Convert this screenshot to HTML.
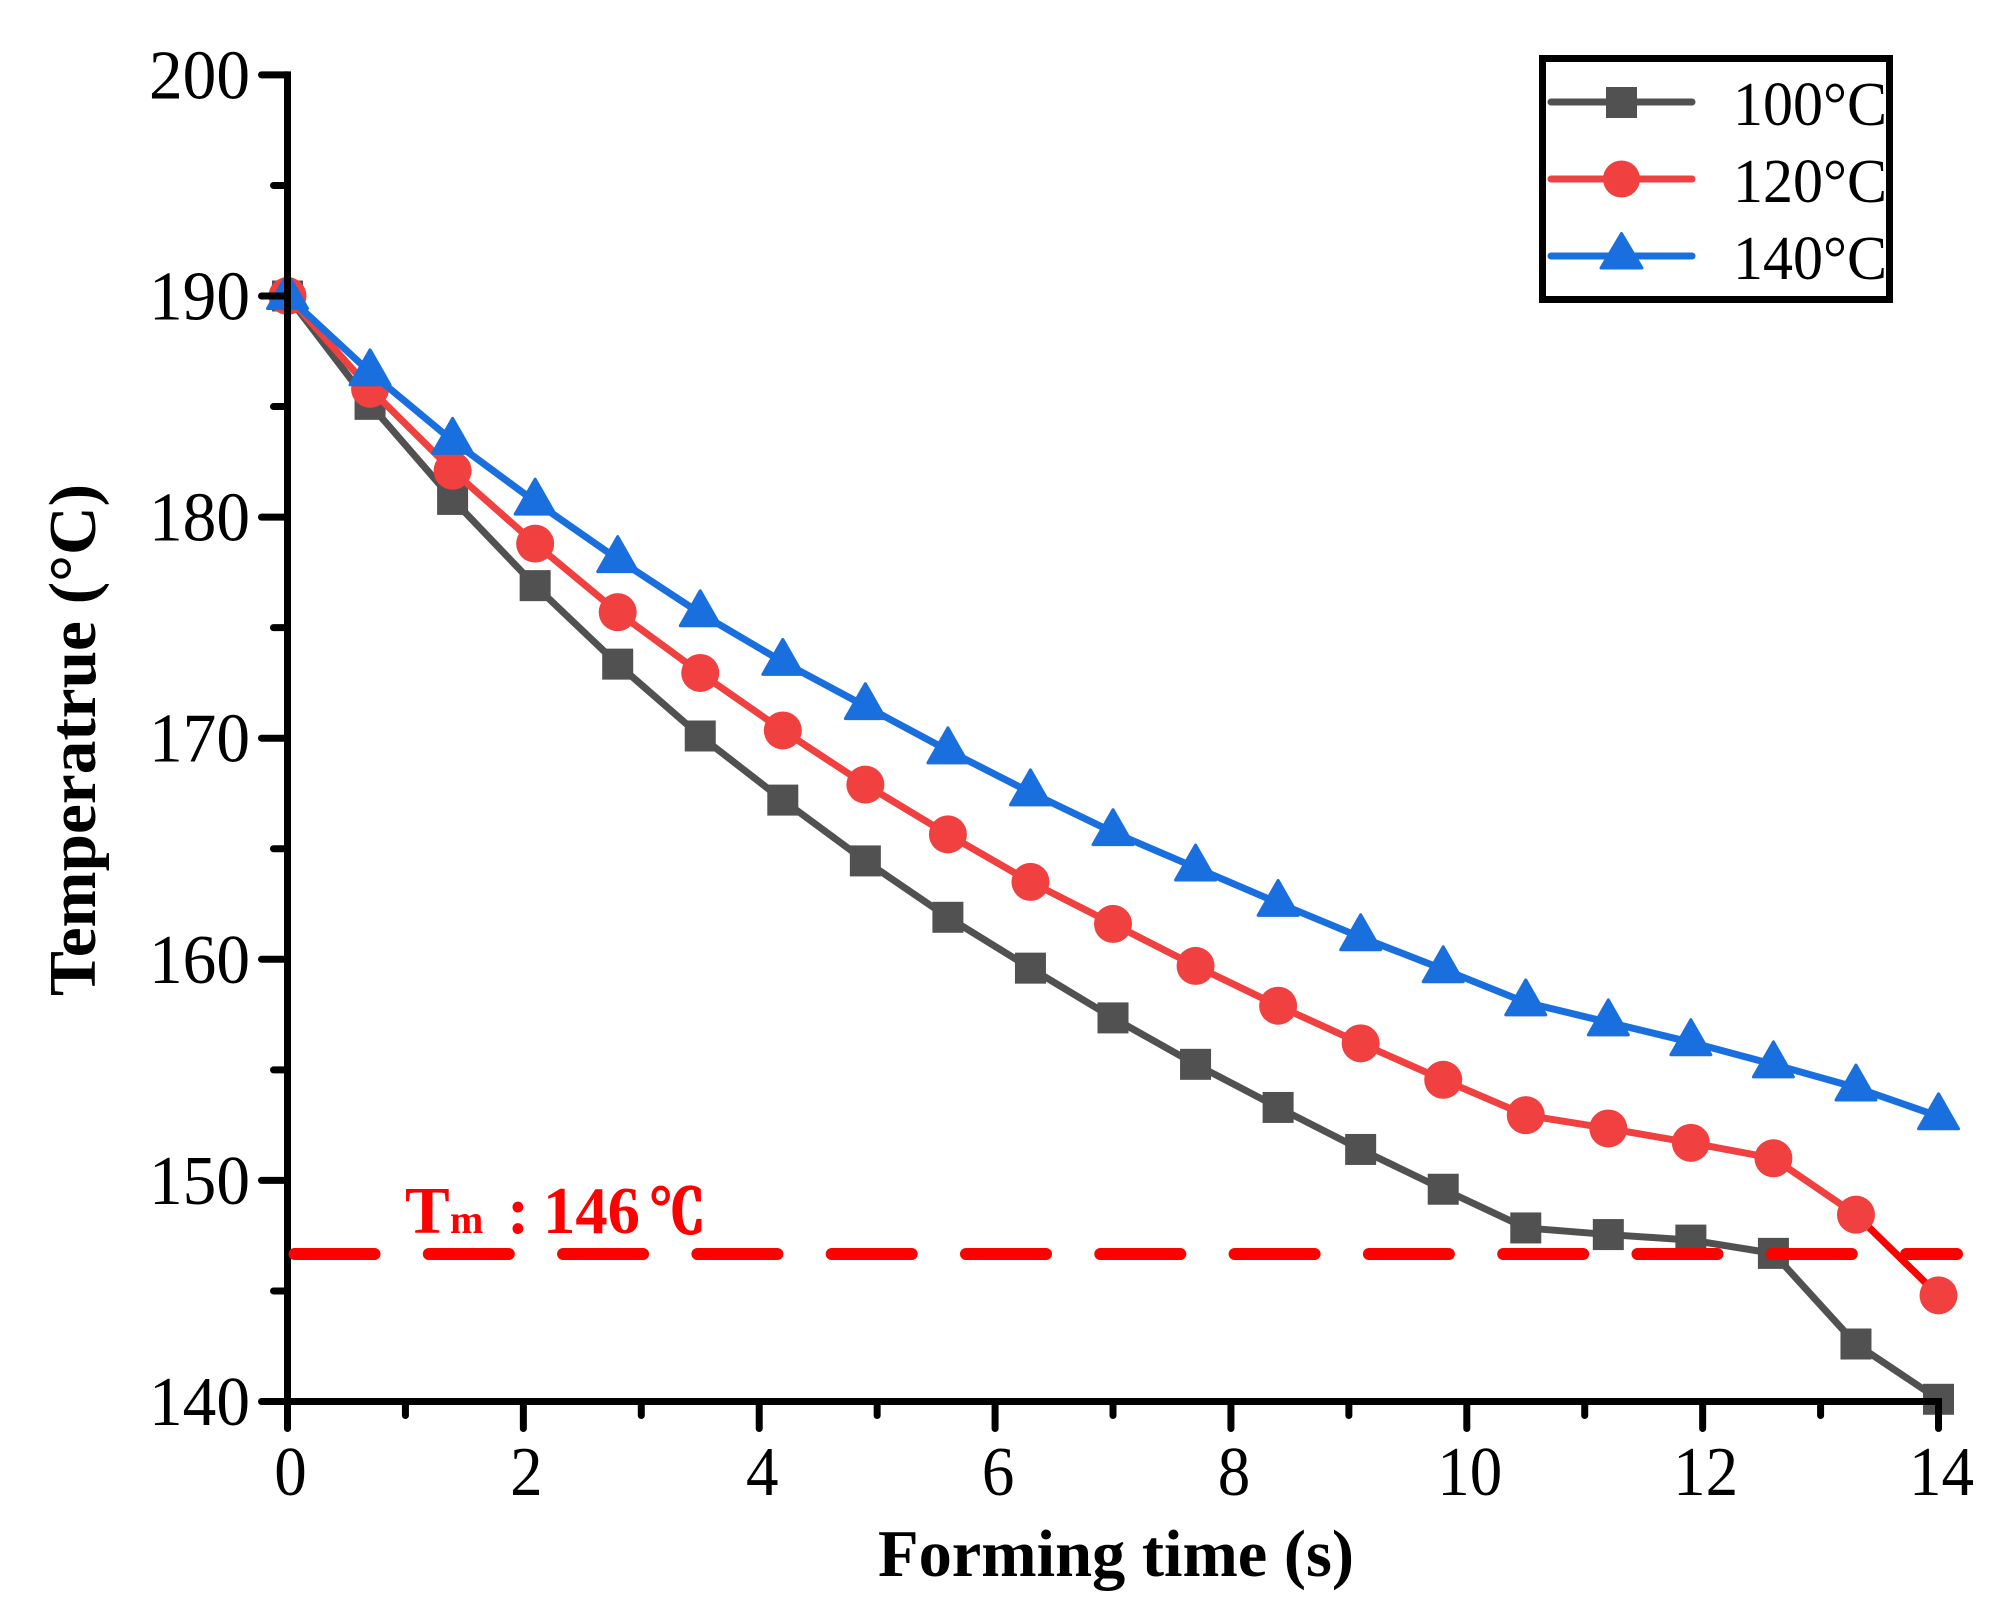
<!DOCTYPE html>
<html>
<head>
<meta charset="utf-8">
<title>Temperature vs forming time</title>
<style>
html,body{margin:0;padding:0;background:#fff;width:2002px;height:1618px;overflow:hidden}
svg{display:block}
text{font-family:"Liberation Serif","Noto Serif CJK SC",serif;fill:#000}
</style>
</head>
<body>
<svg id="chart" width="2002" height="1618" viewBox="0 0 2002 1618" xmlns="http://www.w3.org/2000/svg">
  <rect width="2002" height="1618" fill="#fff"/>
  <g id="series-layer"></g>
  <g id="axis-layer"></g>
  <g id="ref-layer"></g>

  <text x="878" y="1576" font-size="67" font-weight="bold" textLength="476" lengthAdjust="spacingAndGlyphs">Forming time (s)</text>
  <text transform="translate(95,996) rotate(-90)" font-size="67" font-weight="bold" textLength="512" lengthAdjust="spacingAndGlyphs">Temperatrue (°C)</text>

  <text y="1233" style="fill:#ff0000" font-weight="bold"><tspan x="405" font-size="67">T</tspan><tspan x="450" font-size="40">m</tspan><tspan x="507" font-size="67">:</tspan><tspan x="543" font-size="67" textLength="97" lengthAdjust="spacingAndGlyphs">146</tspan><tspan x="649" font-size="60" textLength="56" lengthAdjust="spacingAndGlyphs" style="stroke:#ff0000;stroke-width:2.2px">℃</tspan></text>

  <g>
    <rect x="1542.5" y="58.5" width="347" height="241" fill="#fff" stroke="#000" stroke-width="7"/>
    <g>
      <line x1="1551" y1="102" x2="1692" y2="102" stroke="#515151" stroke-width="7" stroke-linecap="round"/>
      <rect x="1606" y="87" width="31" height="31" fill="#515151"/>
      <text x="1733" y="125" font-size="62" textLength="154" lengthAdjust="spacingAndGlyphs">100°C</text>
    </g>
    <g>
      <line x1="1551" y1="179" x2="1692" y2="179" stroke="#F14040" stroke-width="7" stroke-linecap="round"/>
      <circle cx="1621.5" cy="179" r="18.5" fill="#F14040"/>
      <text x="1733" y="202" font-size="62" textLength="154" lengthAdjust="spacingAndGlyphs">120°C</text>
    </g>
    <g>
      <line x1="1551" y1="256" x2="1692" y2="256" stroke="#1A6FDF" stroke-width="7" stroke-linecap="round"/>
      <path d="M1621.5 233.5 L1642 268 L1601 268 Z" fill="#1A6FDF" stroke="#1A6FDF" stroke-width="3" stroke-linejoin="round"/>
      <text x="1733" y="279" font-size="62" textLength="154" lengthAdjust="spacingAndGlyphs">140°C</text>
    </g>
  </g>
</svg>
<script>
var times = [0,0.7,1.4,2.1,2.8,3.5,4.2,4.9,5.6,6.3,7,7.7,8.4,9.1,9.8,10.5,11.2,11.9,12.6,13.3,14];
var temps100 = [190,185.1,180.8,176.9,173.35,170.1,167.2,164.45,161.9,159.6,157.35,155.25,153.3,151.4,149.6,147.85,147.55,147.3,146.7,142.6,140.1];
var temps120 = [190,185.8,182.1,178.8,175.7,172.95,170.35,167.9,165.65,163.5,161.6,159.7,157.9,156.2,154.55,152.95,152.35,151.7,151,148.45,144.8];
var temps140 = [190,186.55,183.45,180.7,178.1,175.65,173.45,171.45,169.45,167.55,165.75,164.15,162.55,161,159.55,158.05,157.15,156.25,155.25,154.2,152.9];
var xMajorTicks = [0,2,4,6,8,10,12,14];
var xMinorTicks = [1,3,5,7,9,11,13];
var yMajorTicks = [140,150,160,170,180,190,200];
var yMinorTicks = [145,155,165,175,185,195];
var meltingLine = 146.67;

var NS = 'http://www.w3.org/2000/svg';
function sx(t){ return 287.5 + t * 117.93; }
function sy(v){ return 1401.5 - (v - 140) * 22.11; }
function make(tag, parent){
  var el = document.createElementNS(NS, tag);
  parent.appendChild(el);
  return el;
}
function setAll(el, props){
  for (var k in props) el.setAttribute(k, props[k]);
}

var seriesLayer = document.getElementById('series-layer');
var axisLayer = document.getElementById('axis-layer');
var refLayer = document.getElementById('ref-layer');

function drawLine(parent, values, color, label){
  var pts = values.map(function(v, i){ return sx(times[i]) + ',' + sy(v); }).join(' ');
  var line = make('polyline', parent);
  setAll(line, {points: pts, fill: 'none', stroke: color, 'stroke-width': 7, 'stroke-linejoin': 'round'});
  
  
}
function drawSquares(parent, values, color){
  values.forEach(function(v, i){
    var m = make('rect', parent);
    setAll(m, {x: sx(times[i]) - 15.5, y: sy(v) - 15.5, width: 31, height: 31, fill: color});
    
    
  });
}
function drawCircles(parent, values, color){
  values.forEach(function(v, i){
    var m = make('circle', parent);
    setAll(m, {cx: sx(times[i]), cy: sy(v), r: 19, fill: color});
    
    
  });
}
function drawTriangles(parent, values, color){
  values.forEach(function(v, i){
    var cx = sx(times[i]), cy = sy(v);
    var m = make('path', parent);
    setAll(m, {d: 'M' + cx + ' ' + (cy - 22.5) + ' L' + (cx + 20) + ' ' + (cy + 12.5) + ' L' + (cx - 20) + ' ' + (cy + 12.5) + ' Z',
      fill: color, stroke: color, 'stroke-width': 3, 'stroke-linejoin': 'round'});
    
    
  });
}

var g100 = make('g', seriesLayer);


drawLine(g100, temps100, '#515151', '100');
drawSquares(g100, temps100, '#515151');

var g120 = make('g', seriesLayer);


drawLine(g120, temps120, '#F14040', '120');
var n = times.length - 1;
var lastSeg = make('line', g120);
setAll(lastSeg, {x1: sx(times[n - 1]), y1: sy(temps120[n - 1]), x2: sx(times[n]), y2: sy(temps120[n]), stroke: '#ff0000', 'stroke-width': 7});


drawCircles(g120, temps120, '#F14040');

var g140 = make('g', seriesLayer);


drawLine(g140, temps140, '#1A6FDF', '140');
drawTriangles(g140, temps140, '#1A6FDF');

// axes
var yAxis = make('line', axisLayer);
setAll(yAxis, {x1: sx(0), y1: sy(200) - 3.5, x2: sx(0), y2: sy(140) + 3.5, stroke: '#000', 'stroke-width': 7});



var xAxis = make('line', axisLayer);
setAll(xAxis, {x1: sx(0), y1: sy(140), x2: sx(14) + 3.5, y2: sy(140), stroke: '#000', 'stroke-width': 7});



yMajorTicks.forEach(function(v){
  var t = make('line', axisLayer);
  setAll(t, {x1: sx(0), y1: sy(v), x2: sx(0) - 26, y2: sy(v), stroke: '#000', 'stroke-width': 7, 'stroke-linecap': 'round'});
  
  
  var l = make('text', axisLayer);
  setAll(l, {x: 250, y: sy(v) + 23.5, 'font-size': 70, 'text-anchor': 'end', textLength: 101, lengthAdjust: 'spacingAndGlyphs'});
  l.textContent = String(v);
  
  
});
yMinorTicks.forEach(function(v){
  var t = make('line', axisLayer);
  setAll(t, {x1: sx(0), y1: sy(v), x2: sx(0) - 14, y2: sy(v), stroke: '#000', 'stroke-width': 7, 'stroke-linecap': 'round'});
  
  
});
xMajorTicks.forEach(function(v){
  var t = make('line', axisLayer);
  setAll(t, {x1: sx(v), y1: sy(140), x2: sx(v), y2: sy(140) + 27, stroke: '#000', 'stroke-width': 7, 'stroke-linecap': 'round'});
  
  
  var l = make('text', axisLayer);
  setAll(l, {x: sx(v) + 3, y: 1495, 'font-size': 70, 'text-anchor': 'middle', textLength: String(v).length * 32.5, lengthAdjust: 'spacingAndGlyphs'});
  l.textContent = String(v);
  
  
});
xMinorTicks.forEach(function(v){
  var t = make('line', axisLayer);
  setAll(t, {x1: sx(v), y1: sy(140), x2: sx(v), y2: sy(140) + 14, stroke: '#000', 'stroke-width': 7, 'stroke-linecap': 'round'});
  
  
});

// melting temperature reference line
var dash = make('line', refLayer);
setAll(dash, {x1: sx(0) + 7, y1: sy(meltingLine), x2: 1957, y2: sy(meltingLine), stroke: '#ff0000', 'stroke-width': 12, 'stroke-linecap': 'round', 'stroke-dasharray': '80 54.3'});


</script>
</body>
</html>
